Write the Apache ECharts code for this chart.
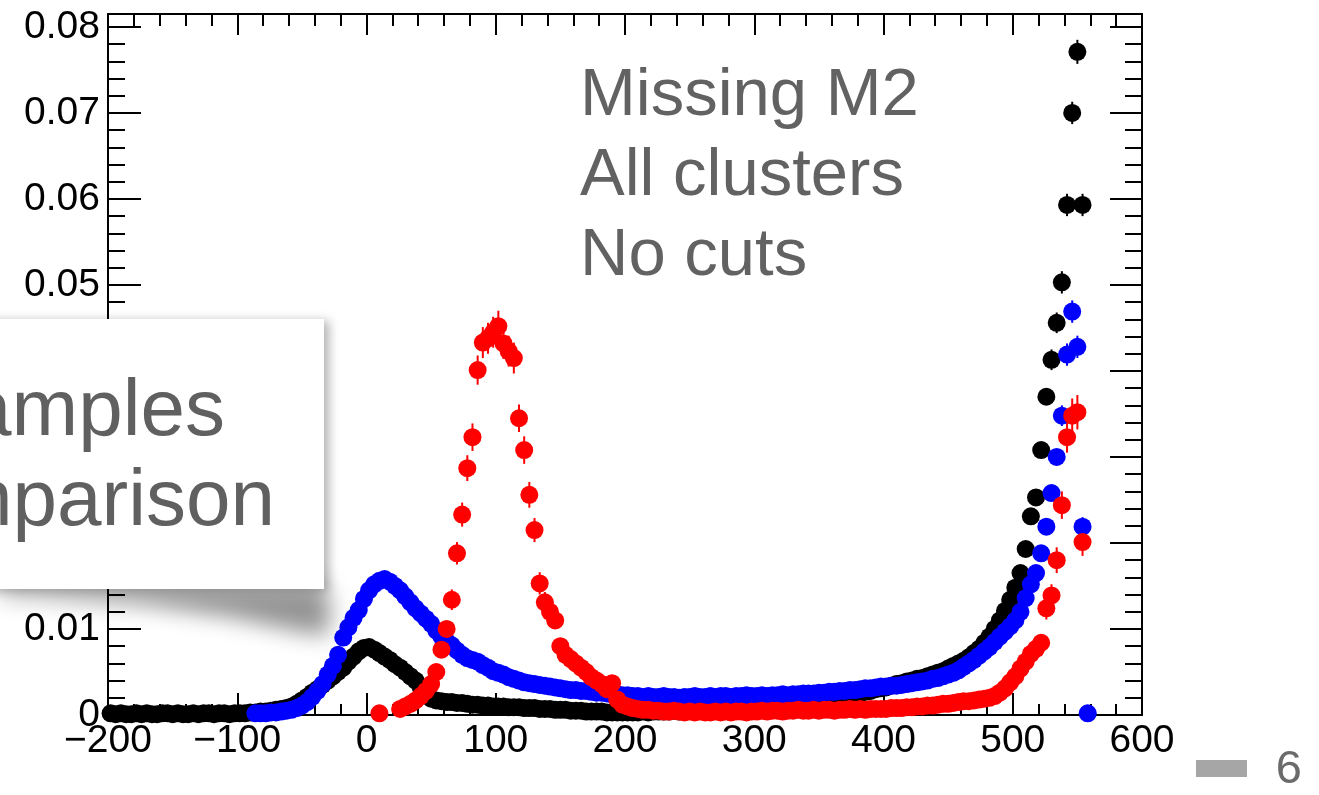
<!DOCTYPE html>
<html>
<head>
<meta charset="utf-8">
<script src="https://cdn.jsdelivr.net/npm/echarts@6.0.0/dist/echarts.min.js"></script>
<style>
  html, body { margin: 0; padding: 0; background: #fff; }
  #main { width: 1319px; height: 795px; }
</style>
</head>
<body>
<div id="main"></div>
<script>
// histogram binning (bin centres start at xxxFirst, step binWidth)
const binWidth = 4;
const xMin = -200, xMax = 600, xStep = 100;
const yMin = 0, yMax = 0.0815, yStep = 0.01, yMinorStep = 0.002;

// black sample
const blackFirst = -198;
const blackValues = [
  0.0002,0.0001,0.0002,0.0001,0.0001,0.0002,0.0001,0.0002,0.0001,0.0001,0.0002,0.0002,0.0001,0.0002,0.0001,0.0001,0.0002,0.0001,0.0002,0.0002,0.0001,0.0002,0.0002,0.0001,0.0002,
  0.0002,0.0002,0.0003,0.0003,0.0004,0.0004,0.0005,0.0006,0.0007,0.0008,
  0.0010,0.0013,0.0017,0.0021,0.0026,0.0030,0.0035,0.0040,0.0045,0.0050,0.0055,0.0062,0.0068,0.0074,0.0078,
  0.0079,0.0076,0.0072,0.0068,0.0064,0.0059,0.0055,0.0050,0.0045,0.0040,0.0032,0.0024,0.0019,0.0017,0.0016,
  0.0015,0.0015,0.0014,0.0014,0.0013,0.0012,0.0012,0.0011,0.0011,0.0010,0.0010,0.0010,0.0009,0.0009,0.0009,0.0008,0.0008,0.0008,0.0007,0.0007,0.0007,0.0006,0.0006,0.0006,0.0005,0.0005,0.0005,0.0004,0.0004,0.0004,0.0004,0.0003,0.0003,0.0003,0.0003,
  0.0003,0.0003,0.0003,0.0004,0.0003,0.0004,0.0004,0.0004,0.0004,0.0005,0.0004,0.0005,0.0005,0.0005,0.0005,0.0006,0.0005,0.0006,0.0006,0.0006,0.0007,0.0006,0.0007,0.0007,0.0007,
  0.0008,0.0008,0.0009,0.0009,0.0010,0.0010,0.0011,0.0012,0.0012,0.0013,0.0014,0.0015,0.0016,0.0017,0.0018,0.0019,0.0020,0.0021,0.0023,0.0024,0.0025,0.0027,0.0028,0.0030,0.0031,
  0.0032,0.0034,0.0036,0.0037,0.0039,0.0040,0.0042,0.0043,0.0045,0.0047,0.0049,0.0051,0.0054,0.0057,0.0060,0.0063,0.0067,0.0072,0.0077,0.0084,0.0091,0.0100,0.0110,0.0121,0.0134,0.0148,0.0165,
  0.0193,0.0231,0.0253,0.0308,0.0370,0.0413,0.0456,0.0503,0.0593,0.0700,0.0771,0.0593
];

// blue sample
const blueFirst = -86;
const blueValues = [
  0.0002,0.0002,0.0002,0.0003,0.0003,0.0004,0.0005,0.0006,0.0008,0.0011,
  0.0015,0.0021,0.0028,0.0036,0.0047,0.0057,0.0070,0.0090,0.0102,0.0113,0.0122,0.0135,
  0.0145,0.0152,0.0156,0.0158,0.0155,0.0150,0.0145,0.0138,0.0131,0.0124,0.0118,0.0112,0.0106,0.0098,0.0091,
  0.0086,0.0081,0.0075,0.0070,0.0066,0.0064,0.0062,0.0058,0.0055,0.0051,0.0049,0.0047,0.0044,0.0042,0.0040,0.0038,0.0037,0.0036,0.0035,0.0034,0.0033,0.0032,0.0031,0.0030,0.0029,0.0029,0.0028,0.0028,0.0027,0.0026,0.0026,0.0025,0.0024,0.0024,0.0023,
  0.0023,0.0022,0.0022,0.0021,0.0022,0.0021,0.0021,0.0022,0.0021,0.0021,0.0020,0.0021,0.0021,0.0022,0.0021,0.0021,0.0022,0.0021,0.0022,0.0022,0.0021,0.0022,0.0022,0.0023,0.0022,
  0.0022,0.0023,0.0022,0.0023,0.0023,0.0024,0.0023,0.0024,0.0024,0.0025,0.0025,0.0025,0.0026,0.0026,0.0027,0.0027,0.0028,0.0028,0.0029,0.0029,0.0030,0.0031,0.0031,0.0032,0.0033,
  0.0033,0.0034,0.0034,0.0035,0.0036,0.0037,0.0038,0.0039,0.0040,0.0042,0.0043,0.0045,0.0047,0.0049,0.0052,0.0056,0.0060,0.0064,0.0069,0.0074,0.0079,0.0085,0.0091,0.0097,0.0103,0.0110,0.0120,0.0136,
  0.0152,0.0165,0.0188,0.0219,0.0258,0.0300,0.0348,0.0419,0.0469,0.0428,0.0219,0.0002
];

// red sample (null = empty bin)
const redFirst = 10;
const redValues = [
  0.0002,null,null,null,0.0007,0.0010,0.0013,0.0017,0.0022,0.0028,
  0.0036,0.0050,0.0076,0.0100,0.0134,0.0188,0.0233,0.0287,0.0323,0.0401,
  0.0433,0.0438,0.0445,0.0452,0.0432,0.0423,0.0415,0.0345,0.0308,0.0256,
  0.0215,0.0153,0.0131,0.0120,0.0110,0.0080,0.0070,0.0065,0.0060,0.0055,
  0.0050,0.0044,0.0040,0.0036,0.0030,0.0037,0.0018,0.0012,
  0.0010,0.0008,0.0007,0.0006,0.0006,0.0005,0.0005,0.0004,0.0004,0.0005,0.0004,0.0003,0.0004,0.0003,0.0004,0.0003,0.0003,0.0004,0.0003,0.0004,0.0003,0.0004,0.0004,0.0003,0.0004,
  0.0004,0.0005,0.0004,0.0005,0.0005,0.0004,0.0005,0.0005,0.0006,0.0005,0.0005,0.0006,0.0005,0.0006,0.0006,0.0005,0.0006,0.0006,0.0007,0.0006,0.0007,0.0006,0.0007,0.0007,0.0007,
  0.0007,0.0008,0.0008,0.0008,0.0009,0.0009,0.0010,0.0010,0.0011,0.0011,0.0012,0.0013,0.0013,0.0014,0.0015,0.0016,0.0016,0.0017,0.0018,0.0019,0.0020,0.0022,0.0026,0.0031,0.0038,
  0.0045,0.0054,0.0062,0.0071,0.0077,0.0084,0.0124,0.0139,0.0180,0.0244,0.0323,0.0348,0.0352,0.0201
];

// visible error bars [bin centre, error]
const blackErrors = [[530,0.0012],[534,0.0012],[538,0.0013],[542,0.0013],[546,0.0013],[550,0.0014],[554,0.0013]];
const blueErrors = [[538,0.0012],[542,0.0013],[546,0.0013],[550,0.0013],[554,0.0011]];
const redErrors = [
  [66,0.0012],[70,0.0013],[74,0.0014],[78,0.0015],[82,0.0016],[86,0.0017],[90,0.0018],[94,0.0018],
  [98,0.0018],[102,0.0018],[106,0.0018],[110,0.0018],[114,0.0018],[118,0.0016],[122,0.0016],
  [126,0.0015],[130,0.0014],[134,0.0013],[138,0.0012],
  [526,0.0013],[530,0.0013],[534,0.0015],[538,0.0016],[542,0.0018],[546,0.0020],[550,0.0020],[554,0.0016]
];

const infoLines = ['Missing M2', 'All clusters', 'No cuts'];
const calloutLines = ['amples', 'mparison'];
const slideNumber = '6';

const FONT = '"Liberation Sans", Arial, Helvetica, sans-serif';

function toPoints(first, values) {
  let pts = [];
  values.forEach((v, i) => {
    if (v !== null) pts.push([first + i * binWidth, v]);
  });
  return pts;
}
function toErrors(first, values, errs) {
  return errs.map(e => [e[0], values[Math.round((e[0] - first) / binWidth)], e[1]]);
}

function errorSeries(data, color) {
  return {
    type: 'custom',
    data: data,
    z: 3,
    silent: true,
    renderItem: function (params, api) {
      let top = api.coord([api.value(0), api.value(1) + api.value(2)]);
      let bot = api.coord([api.value(0), Math.max(0, api.value(1) - api.value(2))]);
      return {
        type: 'line',
        shape: { x1: top[0], y1: top[1], x2: bot[0], y2: bot[1] },
        style: { stroke: color, lineWidth: 2 }
      };
    }
  };
}
function markerSeries(data, color) {
  return {
    type: 'scatter',
    data: data,
    z: 3,
    symbol: 'circle',
    symbolSize: 18,
    itemStyle: { color: color, opacity: 1 },
    silent: true
  };
}

function xAxisDef(pos, showLabel, major, minor) {
  return {
    type: 'value', position: pos, min: xMin, max: xMax, interval: xStep,
    axisLine: { show: true, onZero: false, lineStyle: { color: '#000', width: 2 } },
    axisTick: { show: true, inside: true, length: major, lineStyle: { color: '#000', width: 2 } },
    minorTick: { show: true, splitNumber: 5, length: minor, lineStyle: { color: '#000', width: 2 } },
    splitLine: { show: false },
    axisLabel: {
      show: showLabel, margin: 7, color: '#000', fontSize: 39, fontFamily: FONT,
      formatter: v => String(v).replace('-', '\u2212')
    }
  };
}
function yAxisDef(pos, interval, len, showLine, showLabel) {
  return {
    type: 'value', position: pos, min: yMin, max: yMax, interval: interval,
    axisLine: { show: showLine, onZero: false, lineStyle: { color: '#000', width: 2 } },
    axisTick: { show: true, inside: true, length: len, lineStyle: { color: '#000', width: 2 } },
    splitLine: { show: false },
    axisLabel: {
      show: showLabel, margin: 8, color: '#000', fontSize: 39, fontFamily: FONT,
      formatter: function (v) {
        if (Math.abs(v) < 1e-9) return '0';
        let r = Math.round(v * 100);
        if (Math.abs(v * 100 - r) > 1e-6) return '';
        return v.toFixed(2);
      }
    }
  };
}

// shadow drawn from an off-screen shape so only the blurred shadow shows
const SHIFT = 3000;
const curlShadow = [[0,585],[322,585],[330,600],[328,636],[300,632],[230,617],[140,604],[40,597],[0,595]]
  .map(p => [p[0] + SHIFT, p[1]]);

let graphics = [
  {
    type: 'polygon', z: 100, silent: true,
    shape: { points: curlShadow },
    style: { fill: '#000', shadowBlur: 22, shadowColor: 'rgba(0,0,0,0.42)', shadowOffsetX: -SHIFT }
  },
  {
    type: 'rect', z: 101, silent: true,
    shape: { x: -20, y: 319, width: 344, height: 270 },
    style: { fill: '#fff', shadowBlur: 10, shadowColor: 'rgba(0,0,0,0.3)', shadowOffsetX: 5, shadowOffsetY: 2 }
  },
  {
    type: 'rect', z: 101, silent: true,
    shape: { x: 1196, y: 760, width: 51, height: 17 },
    style: { fill: '#a6a6a6' }
  },
  {
    type: 'text', z: 102, silent: true,
    style: { text: slideNumber, x: 1302, y: 770, font: '47px ' + FONT, fill: '#6b6b6b',
      align: 'right', verticalAlign: 'middle', textAlign: 'right', textVerticalAlign: 'middle' }
  }
];
infoLines.forEach((t, i) => {
  graphics.push({
    type: 'text', z: 102, silent: true,
    style: { text: t, x: 580, y: 97 + i * 80, font: '67px ' + FONT, fill: '#626262',
      align: 'left', verticalAlign: 'middle', textAlign: 'left', textVerticalAlign: 'middle' }
  });
});
calloutLines.forEach((t, i) => {
  graphics.push({
    type: 'text', z: 102, silent: true,
    style: { text: t, x: [225, 275][i], y: 413 + i * 90, font: '80px ' + FONT, fill: '#606060',
      align: 'right', verticalAlign: 'middle', textAlign: 'right', textVerticalAlign: 'middle' }
  });
});

var myChart = echarts.init(document.getElementById('main'), null, { renderer: 'canvas' });
var option = {
  backgroundColor: '#fff',
  animation: false,
  grid: { left: 108, right: 177, top: 14, bottom: 80, containLabel: false, outerBoundsMode: 'none' },
  xAxis: [
    xAxisDef('bottom', true, 22, 11),
    xAxisDef('top', false, 21, 12)
  ],
  yAxis: [
    yAxisDef('left', yStep, 33, true, true),
    yAxisDef('left', yMinorStep, 17, false, false),
    yAxisDef('right', yStep, 32, true, false),
    yAxisDef('right', yMinorStep, 17, false, false)
  ],
  series: [
    errorSeries(toErrors(blackFirst, blackValues, blackErrors), '#000'),
    markerSeries(toPoints(blackFirst, blackValues), '#000000'),
    errorSeries(toErrors(blueFirst, blueValues, blueErrors), '#0000ff'),
    markerSeries(toPoints(blueFirst, blueValues), '#0000ff'),
    errorSeries(toErrors(redFirst, redValues, redErrors), '#ff0000'),
    markerSeries(toPoints(redFirst, redValues), '#ff0000')
  ],
  graphic: { elements: graphics }
};
myChart.setOption(option);
</script>
</body>
</html>
